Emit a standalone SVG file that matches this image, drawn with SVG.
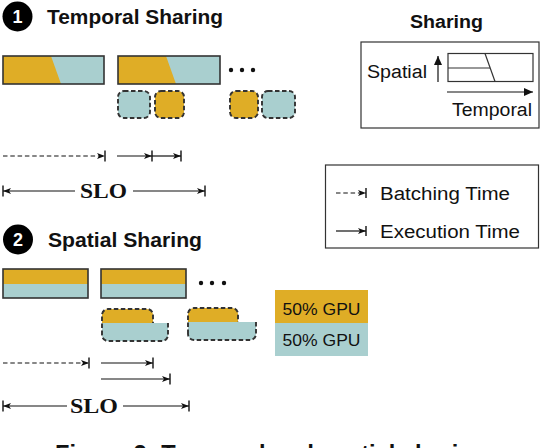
<svg xmlns="http://www.w3.org/2000/svg" width="542" height="448" viewBox="0 0 542 448">
<defs>
<style>
.sans{font-family:"Liberation Sans",Arial,Helvetica,sans-serif;fill:#111}
.b{font-weight:bold}
.serif{font-family:"Liberation Serif","Times New Roman",serif;font-weight:bold;fill:#111}
.frame{fill:none;stroke:#333;stroke-width:1.6}
.box{fill:none;stroke:#333;stroke-width:1.2}
.y{fill:#DFAD26}
.t{fill:#A9CFCF}
.dash{fill:none;stroke:#333;stroke-width:1.9;stroke-dasharray:4.5 2.5}
.ln{fill:none;stroke:#111;stroke-width:1.2}
.dl{fill:none;stroke:#111;stroke-width:1.2;stroke-dasharray:4.5 2.8}
.tick{stroke:#111;stroke-width:1.4}
</style>
<marker id="ah" viewBox="0 0 8 6" refX="8" refY="3" markerWidth="8" markerHeight="6" markerUnits="userSpaceOnUse" orient="auto">
<path d="M0,0 L8,3 L0,6 L2,3 z" fill="#111"/>
</marker>
<marker id="ahb" viewBox="0 0 9 8" refX="9" refY="4" markerWidth="9" markerHeight="8" markerUnits="userSpaceOnUse" orient="auto">
<path d="M0,0 L9,4 L0,8 z" fill="#111"/>
</marker>
</defs>
<rect width="542" height="448" fill="#fff"/>

<g id="title1">
<circle cx="17.5" cy="16.5" r="15" fill="#000"/>
<text x="17.5" y="23" class="sans b" font-size="18" style="fill:#fff" text-anchor="middle">1</text>
<text x="47" y="24" class="sans b" font-size="20" textLength="176" lengthAdjust="spacingAndGlyphs">Temporal Sharing</text>
</g>

<g id="temporal-bar1">
<rect x="3" y="56" width="101" height="28" class="t"/>
<polygon points="3,56 51,56 61,84 3,84" class="y"/>
<rect x="3" y="56" width="101" height="28" class="frame"/>
</g>
<g id="temporal-bar2">
<rect x="118" y="56" width="102" height="28" class="t"/>
<polygon points="118,56 166,56 176,84 118,84" class="y"/>
<rect x="118" y="56" width="102" height="28" class="frame"/>
</g>
<g id="dots1" fill="#111">
<circle cx="231" cy="70" r="2.2"/><circle cx="242" cy="70" r="2.2"/><circle cx="253" cy="70" r="2.2"/>
</g>
<g id="temporal-jobs">
<rect x="118" y="91" width="32" height="27" rx="6" class="t"/>
<rect x="118" y="91" width="32" height="27" rx="6" class="dash"/>
<rect x="155" y="91" width="29" height="27" rx="6" class="y"/>
<rect x="155" y="91" width="29" height="27" rx="6" class="dash"/>
<rect x="230" y="91" width="28" height="27" rx="6" class="y"/>
<rect x="230" y="91" width="28" height="27" rx="6" class="dash"/>
<rect x="262" y="91" width="33" height="27" rx="6" class="t"/>
<rect x="262" y="91" width="33" height="27" rx="6" class="dash"/>
</g>

<g id="connectors">
<line x1="3" y1="156" x2="105" y2="156" class="dl" marker-end="url(#ah)"/>
<line x1="105" y1="150.5" x2="105" y2="161.5" class="tick"/>
<line x1="117" y1="156" x2="152" y2="156" class="ln" marker-end="url(#ah)"/>
<line x1="152" y1="150.5" x2="152" y2="161.5" class="tick"/>
<line x1="152" y1="156" x2="181" y2="156" class="ln" marker-end="url(#ah)"/>
<line x1="181" y1="150.5" x2="181" y2="161.5" class="tick"/>
<line x1="75" y1="191" x2="3" y2="191" class="ln" marker-end="url(#ah)"/>
<line x1="3" y1="185.5" x2="3" y2="196.5" class="tick"/>
<line x1="133" y1="191" x2="205" y2="191" class="ln" marker-end="url(#ah)"/>
<line x1="205" y1="185.5" x2="205" y2="196.5" class="tick"/>
<line x1="3" y1="363" x2="89" y2="363" class="dl" marker-end="url(#ah)"/>
<line x1="89" y1="357.5" x2="89" y2="368.5" class="tick"/>
<line x1="101" y1="363" x2="153" y2="363" class="ln" marker-end="url(#ah)"/>
<line x1="153" y1="357.5" x2="153" y2="368.5" class="tick"/>
<line x1="101" y1="379" x2="170" y2="379" class="ln" marker-end="url(#ah)"/>
<line x1="170" y1="373.5" x2="170" y2="384.5" class="tick"/>
<line x1="67" y1="406" x2="3" y2="406" class="ln" marker-end="url(#ah)"/>
<line x1="3" y1="400.5" x2="3" y2="411.5" class="tick"/>
<line x1="123" y1="406" x2="189" y2="406" class="ln" marker-end="url(#ah)"/>
<line x1="189" y1="400.5" x2="189" y2="411.5" class="tick"/>
<line x1="336" y1="193" x2="366" y2="193" class="dl" marker-end="url(#ah)"/>
<line x1="366" y1="188" x2="366" y2="198" class="tick"/>
<line x1="336" y1="231" x2="366" y2="231" class="ln" marker-end="url(#ah)"/>
<line x1="366" y1="226" x2="366" y2="236" class="tick"/>
<line x1="438" y1="82" x2="438" y2="56" class="ln" stroke-width="1.3" marker-end="url(#ahb)"/>
<line x1="447" y1="92" x2="533" y2="92" class="ln" stroke-width="1.3" marker-end="url(#ahb)"/>
</g>

<g id="slo1"><text x="103.5" y="198" class="serif" font-size="22" text-anchor="middle" textLength="47" lengthAdjust="spacingAndGlyphs">SLO</text></g>
<g id="slo2"><text x="94" y="413" class="serif" font-size="22" text-anchor="middle" textLength="48" lengthAdjust="spacingAndGlyphs">SLO</text></g>

<g id="sharing-legend">
<text x="446.5" y="28" class="sans b" font-size="18" text-anchor="middle" textLength="73" lengthAdjust="spacingAndGlyphs">Sharing</text>
<rect x="361" y="42" width="178" height="86" class="box"/>
<text x="367" y="78" class="sans" font-size="18" textLength="60" lengthAdjust="spacingAndGlyphs">Spatial</text>
<rect x="448" y="53.5" width="85" height="28" class="box"/>
<line x1="448" y1="68" x2="490" y2="68" class="box"/>
<line x1="485" y1="53.5" x2="495" y2="81.5" class="box"/>
<text x="452" y="116" class="sans" font-size="18" textLength="80" lengthAdjust="spacingAndGlyphs">Temporal</text>
</g>

<g id="time-legend">
<rect x="325.5" y="165" width="213" height="83" class="box"/>
<text x="380" y="200" class="sans" font-size="18" textLength="130" lengthAdjust="spacingAndGlyphs">Batching Time</text>
<text x="380" y="238" class="sans" font-size="18" textLength="140" lengthAdjust="spacingAndGlyphs">Execution Time</text>
</g>

<g id="title2">
<circle cx="18" cy="239.5" r="15" fill="#000"/>
<text x="18" y="246" class="sans b" font-size="18" style="fill:#fff" text-anchor="middle">2</text>
<text x="48" y="247" class="sans b" font-size="20" textLength="154" lengthAdjust="spacingAndGlyphs">Spatial Sharing</text>
</g>

<g id="spatial-bar1">
<rect x="3" y="269" width="85" height="15" class="y"/>
<rect x="3" y="284" width="85" height="14" class="t"/>
<rect x="3" y="269" width="85" height="29" class="frame"/>
</g>
<g id="spatial-bar2">
<rect x="101" y="269" width="85" height="15" class="y"/>
<rect x="101" y="284" width="85" height="14" class="t"/>
<rect x="101" y="269" width="85" height="29" class="frame"/>
</g>
<g id="dots2" fill="#111">
<circle cx="201" cy="283" r="2.2"/><circle cx="212" cy="283" r="2.2"/><circle cx="224" cy="283" r="2.2"/>
</g>
<g id="spatial-job1">
<path d="M102,323 V315 A6,6 0 0 1 108,309 H147 A6,6 0 0 1 153,315 V323 Z" class="y"/>
<path d="M102,323 H168 V335 A6,6 0 0 1 162,341 H108 A6,6 0 0 1 102,335 Z" class="t"/>
<path d="M102,335 V315 A6,6 0 0 1 108,309 H147 A6,6 0 0 1 153,315 V323 M168,323 V335 A6,6 0 0 1 162,341 H108 A6,6 0 0 1 102,335" class="dash"/>
</g>
<g id="spatial-job2">
<path d="M188,322 V314 A6,6 0 0 1 194,308 H232 A6,6 0 0 1 238,314 V322 Z" class="y"/>
<path d="M188,322 H256 V334 A6,6 0 0 1 250,340 H194 A6,6 0 0 1 188,334 Z" class="t"/>
<path d="M188,334 V314 A6,6 0 0 1 194,308 H232 A6,6 0 0 1 238,314 V322 M256,322 V334 A6,6 0 0 1 250,340 H194 A6,6 0 0 1 188,334" class="dash"/>
</g>

<g id="gpu-legend">
<rect x="275" y="290" width="93" height="33" class="y"/>
<rect x="275" y="323" width="93" height="33" class="t"/>
<text x="321.5" y="315" class="sans" font-size="17" text-anchor="middle" textLength="78" lengthAdjust="spacingAndGlyphs">50% GPU</text>
<text x="321.5" y="346" class="sans" font-size="17" text-anchor="middle" textLength="78" lengthAdjust="spacingAndGlyphs">50% GPU</text>
</g>

<g id="caption">
<text x="55" y="462" class="sans b" font-size="24" textLength="432" lengthAdjust="spacingAndGlyphs">Figure 2: Temporal and spatial sharing</text>
</g>
</svg>
